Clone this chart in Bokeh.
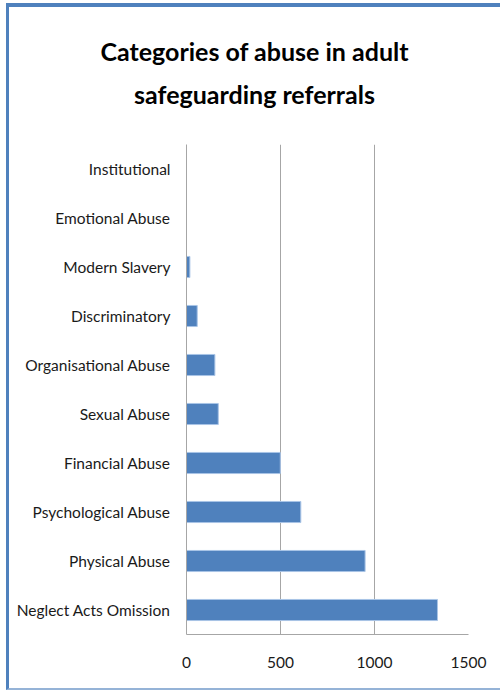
from bokeh.plotting import figure
from bokeh.models import FactorRange, Range1d, FixedTicker, Div
from bokeh.layouts import column
from bokeh.embed import file_html
from bokeh.resources import INLINE

categories = ["Neglect Acts Omission", "Physical Abuse", "Psychological Abuse",
              "Financial Abuse", "Sexual Abuse", "Organisational Abuse",
              "Discriminatory", "Modern Slavery", "Emotional Abuse", "Institutional"]
values = [1335, 950, 608, 499, 169, 151, 57, 18, 0, 0]
x_ticks = [0, 500, 1000, 1500]
title_lines = ["Categories of abuse in adult", "safeguarding referrals"]

FONT = "Lato"
BAR = "#4F81BD"
GRID = "#A6A6A6"
TXT = "#1a1a1a"

title = Div(text="<div style=\"width:491px;text-align:center;font-family:Lato;font-weight:bold;"
                 "font-size:25px;line-height:43px;color:#000;padding-top:23px;\">"
                 + "<br>".join(title_lines) + "</div>",
            width=491, height=110, margin=0)

p = figure(width=491, height=571,
           y_range=FactorRange(*categories), x_range=Range1d(0, 1500),
           output_backend="svg", toolbar_location=None,
           min_border_left=177, min_border_right=32,
           min_border_top=27, min_border_bottom=54)
p.margin = 0

p.hbar(y=categories, right=values, left=0, height=0.43,
       fill_color=BAR, line_color="#A9C4E6", line_width=1)

p.outline_line_color = None
p.ygrid.grid_line_color = None
p.xgrid.grid_line_color = GRID
p.xgrid.grid_line_width = 1

p.xaxis.ticker = FixedTicker(ticks=x_ticks)
for ax in (p.xaxis, p.yaxis):
    ax.axis_line_color = GRID
    ax.axis_line_width = 1
    ax.major_tick_line_color = None
    ax.minor_tick_line_color = None
    ax.major_tick_out = 0
    ax.major_tick_in = 0
    ax.major_label_text_font = FONT
    ax.major_label_text_font_size = "15.5px"
    ax.major_label_text_color = TXT
p.xaxis.major_label_standoff = 22
p.yaxis.major_label_standoff = 16

layout = column(title, p, width=494, spacing=0)
layout.margin = (3, 0, 0, 6)
layout.styles = {"border-top": "4px solid #4F81BD",
                 "border-left": "3px solid #4F81BD",
                 "border-bottom": "2px solid #95B3D7",
                 "border-right": "0px none transparent",
                 "box-shadow": "none",
                 "outline": "none"}

open("out.html", "w").write(file_html(layout, INLINE))
